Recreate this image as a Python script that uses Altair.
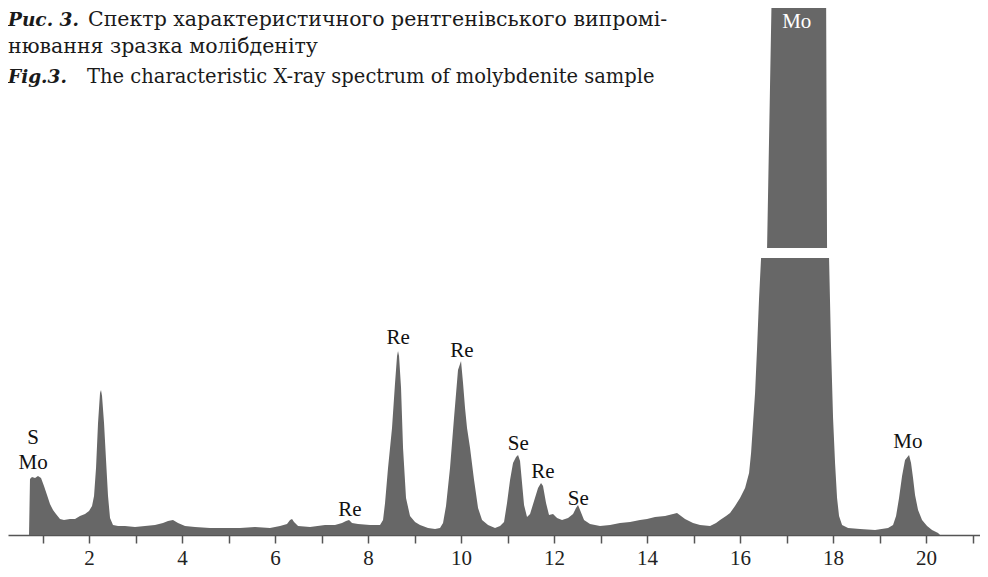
import altair as alt
import pandas as pd

# Spectrum trace (energy in keV, intensity in arbitrary units)
energy = [0.710, 0.731, 0.774, 0.839, 0.903, 0.968, 1.032, 1.097, 1.161, 1.226,
          1.290, 1.376, 1.462, 1.591, 1.699, 1.806, 1.914, 2.000, 2.065, 2.108,
          2.151, 2.194, 2.237, 2.258, 2.280, 2.323, 2.366, 2.409, 2.452, 2.516,
          2.624, 2.774, 2.989, 3.204, 3.419, 3.591, 3.699, 3.806, 3.914, 4.065,
          4.280, 4.602, 4.925, 5.247, 5.570, 5.892, 6.108, 6.258, 6.323, 6.366,
          6.409, 6.495, 6.753, 7.075, 7.290, 7.441, 7.527, 7.591, 7.656, 7.785,
          8.043, 8.258, 8.323, 8.366, 8.430, 8.516, 8.581, 8.624, 8.645, 8.667,
          8.710, 8.753, 8.817, 8.903, 9.011, 9.118, 9.290, 9.441, 9.548, 9.613,
          9.677, 9.763, 9.849, 9.935, 10.000, 10.043, 10.086, 10.129, 10.194, 10.280,
          10.366, 10.452, 10.581, 10.731, 10.839, 10.925, 10.989, 11.054, 11.118, 11.183,
          11.226, 11.269, 11.312, 11.355, 11.419, 11.484, 11.570, 11.656, 11.720, 11.763,
          11.828, 11.892, 11.978, 12.065, 12.172, 12.301, 12.409, 12.473, 12.516, 12.559,
          12.645, 12.774, 12.989, 13.204, 13.419, 13.634, 13.849, 14.000, 14.172, 14.387,
          14.645, 14.817, 14.989, 15.140, 15.355, 15.484, 15.570, 15.699, 15.785, 15.892,
          16.000, 16.108, 16.194, 16.237, 16.280, 16.323, 16.366, 16.409, 16.452, 16.581,
          16.688, 17.226, 17.849, 17.871, 17.914, 17.957, 18.000, 18.043, 18.086, 18.129,
          18.194, 18.323, 18.581, 18.903, 19.183, 19.290, 19.355, 19.419, 19.484, 19.548,
          19.634, 19.677, 19.720, 19.763, 19.828, 19.914, 20.022, 20.129, 20.258, 20.301]

counts = [0, 56, 58, 57, 59, 57, 49, 40, 31, 25,
          21, 16, 15, 16, 16, 19, 21, 24, 29, 39,
          67, 112, 142, 145, 139, 112, 75, 39, 17, 10,
          9, 9, 8, 9, 10, 12, 14, 15, 12, 9,
          8, 7, 7, 7, 8, 7, 9, 11, 15, 16,
          13, 9, 8, 10, 10, 12, 14, 15, 12, 11,
          10, 10, 15, 32, 67, 107, 152, 179, 184, 179,
          147, 87, 37, 19, 13, 10, 7, 6, 7, 12,
          29, 67, 117, 165, 174, 152, 127, 107, 87, 55,
          27, 15, 10, 7, 9, 13, 32, 55, 72, 78,
          80, 74, 52, 30, 18, 21, 34, 47, 52, 49,
          32, 20, 21, 17, 15, 17, 21, 27, 30, 25,
          15, 11, 9, 10, 12, 13, 15, 16, 18, 19,
          22, 16, 12, 10, 9, 12, 15, 19, 22, 29,
          37, 47, 62, 82, 112, 142, 187, 237, 277, 287,
          560, 600, 560, 287, 277, 187, 117, 72, 37, 19,
          10, 7, 6, 5, 7, 10, 19, 37, 59, 75,
          80, 72, 57, 40, 25, 15, 9, 5, 2, 0]

# Peak labels
label_text = ["S", "Mo", "Re", "Re", "Re", "Se", "Re", "Se", "Mo"]
label_energy = [0.80, 0.80, 7.61, 8.65, 10.02, 11.23, 11.76, 12.52, 19.61]
label_level = [97, 72, 25, 197, 184, 91, 63, 36, 93]

# Axis break (white gap) on the Mo peak
break_energy = [16.2, 18.2]
break_level = [277, 287]

# Label inside the truncated Mo peak
inner_text = ["Mo"]
inner_energy = [17.22]
inner_level = [513]

tick_values = list(range(1, 22))

caption_bold_1 = "Рис. 3."
caption_text_1 = "Спектр характеристичного рентгенівського випромі-"
caption_text_2 = "нювання зразка молібденіту"
caption_bold_3 = "Fig.3."
caption_text_3 = "The characteristic X-ray spectrum of molybdenite sample"

FONT = "Liberation Serif"
CAP_FONT = "DejaVu Serif"
GREY = "#676767"

spec = pd.DataFrame({"energy": energy, "counts": counts})
labels = pd.DataFrame({"t": label_text, "energy": label_energy, "level": label_level})
brk = pd.DataFrame({"e1": [break_energy[0]], "e2": [break_energy[1]],
                    "l1": [break_level[0]], "l2": [break_level[1]]})
inner = pd.DataFrame({"t": inner_text, "energy": inner_energy, "level": inner_level})

xscale = alt.Scale(domain=[0.258, 21.16], nice=False, zero=False)
yscale = alt.Scale(domain=[0, 529], nice=False, zero=True)

xaxis = alt.Axis(values=tick_values, title=None,
                 labelExpr="datum.value % 2 == 0 ? datum.label : ''",
                 labelFont=FONT, labelFontSize=21, labelColor="#222222",
                 labelPadding=4, tickSize=8, tickWidth=1.5, tickColor="#555555",
                 domainColor="#555555", domainWidth=1.5, grid=False,
                 labelFlush=False, labelOverlap=False)

area = alt.Chart(spec).mark_area(color=GREY, clip=True, interpolate="linear").encode(
    x=alt.X("energy:Q", scale=xscale, axis=xaxis),
    y=alt.Y("counts:Q", scale=yscale, axis=None),
)

gap = alt.Chart(brk).mark_rect(color="white").encode(
    x="e1:Q", x2="e2:Q", y="l1:Q", y2="l2:Q"
)

peak_labels = alt.Chart(labels).mark_text(
    font=FONT, fontSize=21, color="#111111", baseline="middle", align="center"
).encode(x="energy:Q", y="level:Q", text="t:N")

inner_label = alt.Chart(inner).mark_text(
    font=FONT, fontSize=21, color="white", baseline="middle", align="center"
).encode(x="energy:Q", y="level:Q", text="t:N")

def cap(txt, x, y, size, bold=False):
    kw = dict(font=CAP_FONT, fontSize=size, color="#1a1a1a", align="left",
              baseline="alphabetic")
    if bold:
        kw.update(fontWeight="bold", fontStyle="italic")
    return alt.Chart(pd.DataFrame({"t": [txt]})).mark_text(**kw).encode(
        x=alt.value(x), y=alt.value(y), text="t:N")

captions = (cap(caption_bold_1, 0, 20, 18.5, True) + cap(caption_text_1, 80, 20, 20.5)
            + cap(caption_text_2, 0, 47, 20.5)
            + cap(caption_bold_3, 0, 77, 18.5, True) + cap(caption_text_3, 79, 77, 19.5))

chart = alt.layer(area, gap, peak_labels, inner_label, captions).properties(
    width=972, height=529,
    padding={"left": 0, "top": -2, "right": 0, "bottom": 34},
    autosize=alt.AutoSizeParams(type="none"),
).configure_view(stroke=None)

chart.save("out.html", embed_options={"renderer": "svg", "actions": False})
